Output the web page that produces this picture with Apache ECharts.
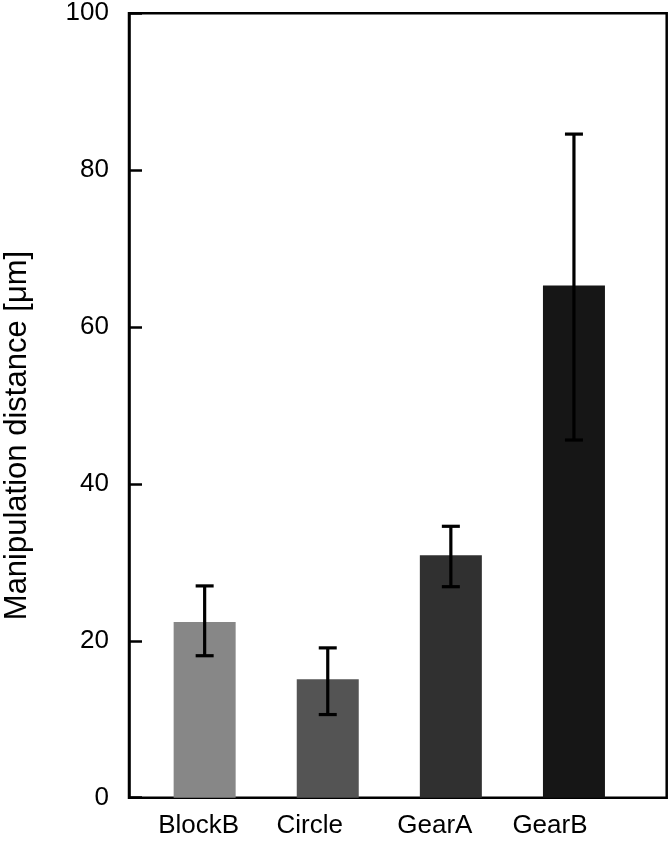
<!DOCTYPE html>
<html>
<head>
<meta charset="utf-8">
<script src="https://cdn.jsdelivr.net/npm/echarts@6/dist/echarts.min.js"></script>
<style>
html,body{margin:0;padding:0;background:#fff;}
#chart{width:670px;height:855px;}
</style>
</head>
<body>
<div id="chart"></div>
<script>
const categories = ['BlockB', 'Circle', 'GearA', 'GearB'];
const means = [22.4, 15.1, 30.9, 65.3];
const errLow = [18.1, 10.6, 26.9, 45.6];
const errHigh = [27.0, 19.1, 34.6, 84.6];
const barColors = ['#878787', '#545454', '#303030', '#161616'];
const yTicks = [0, 20, 40, 60, 80, 100];
const labelShift = [6, 18, 16, 24];

const FONT = 'Liberation Sans, Arial, Helvetica, sans-serif';
const chart = echarts.init(document.getElementById('chart'), null, {renderer: 'canvas'});

const gridTop = 13.3, gridBottom = 855 - 797.7;

const option = {
  animation: false,
  backgroundColor: '#fff',
  grid: [
    {left: 129, right: 3.3, top: gridTop, bottom: gridBottom, containLabel: false, outerBoundsMode: 'none', show: true, borderColor: '#000', borderWidth: 2.5, backgroundColor: 'transparent'},
    {left: 143.1, right: 34.5, top: gridTop, bottom: gridBottom, containLabel: false, outerBoundsMode: 'none'}
  ],
  xAxis: [
    {gridIndex: 0, type: 'value', min: 0, max: 1, show: false},
    {
      gridIndex: 1, type: 'category',
      data: categories.map((c, i) => ({value: c, textStyle: {padding: [0, labelShift[i] * 2, 0, 0]}})),
      axisLine: {show: false}, axisTick: {show: false},
      axisLabel: {fontSize: 26, color: '#000', fontFamily: FONT, margin: 15}
    }
  ],
  yAxis: [
    {
      gridIndex: 0, type: 'value', min: yTicks[0], max: yTicks[yTicks.length - 1], interval: 20,
      axisLine: {show: true, lineStyle: {color: '#000', width: 2.5}},
      axisTick: {show: true, inside: true, length: 13, lineStyle: {color: '#000', width: 2.5}},
      splitLine: {show: false},
      axisLabel: {fontSize: 26, color: '#000', fontFamily: FONT, margin: 20},
      name: 'Manipulation distance [\u03bcm]',
      nameLocation: 'middle', nameRotate: 90, nameGap: 96,
      nameTextStyle: {fontSize: 31, color: '#000', fontFamily: FONT, padding: [0, 60, 0, 0]}
    },
    {gridIndex: 1, type: 'value', min: 0, max: 100, show: false}
  ],
  series: [
    {
      type: 'bar', xAxisIndex: 1, yAxisIndex: 1, barWidth: 62,
      data: means.map((v, i) => ({value: v, itemStyle: {color: barColors[i]}}))
    },
    {
      type: 'custom', xAxisIndex: 1, yAxisIndex: 1, z: 10,
      data: categories.map((c, i) => [i, errLow[i], errHigh[i]]),
      renderItem: function (params, api) {
        const lo = api.coord([api.value(0), api.value(1)]);
        const hi = api.coord([api.value(0), api.value(2)]);
        const hw = 9;
        const st = {stroke: '#000', lineWidth: 3.2};
        return {
          type: 'group',
          children: [
            {type: 'line', shape: {x1: lo[0], y1: lo[1], x2: hi[0], y2: hi[1]}, style: st},
            {type: 'line', shape: {x1: lo[0] - hw, y1: lo[1], x2: lo[0] + hw, y2: lo[1]}, style: st},
            {type: 'line', shape: {x1: hi[0] - hw, y1: hi[1], x2: hi[0] + hw, y2: hi[1]}, style: st}
          ]
        };
      }
    }
  ]
};
chart.setOption(option);
</script>
</body>
</html>
